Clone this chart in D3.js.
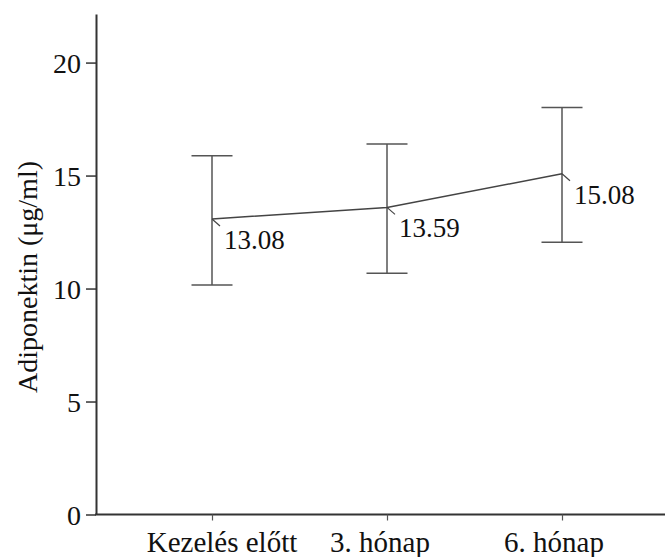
<!DOCTYPE html>
<html lang="hu">
<head>
<meta charset="utf-8">
<script src="https://d3js.org/d3.v7.min.js"></script>
<style>
  body { margin: 0; background: #fff; }
</style>
</head>
<body>
<div id="chart"></div>
<script>
// data
var categories = ["Kezelés előtt", "3. hónap", "6. hónap"];
var means = [13.08, 13.59, 15.08];
var lows = [10.16, 10.68, 12.05];
var highs = [15.88, 16.40, 18.01];
var yTicks = [0, 5, 10, 15, 20];

var W = 665, H = 557;
var serif = "'Liberation Serif', 'Times New Roman', Times, serif";

var svg = d3.select("#chart")
  .append("svg")
  .attr("width", W)
  .attr("height", H)
  .style("font-family", serif);

var axisX = 96, axisY = 514.5;

var x = d3.scalePoint()
  .domain(categories)
  .range([212, 562]);

var y = d3.scaleLinear()
  .domain([0, 22.15])
  .range([axisY, 14]);

// Y axis
var gy = svg.append("g")
  .attr("transform", "translate(" + axisX + ",0)")
  .call(d3.axisLeft(y).tickValues(yTicks).tickSize(10).tickSizeOuter(0).tickPadding(5));
gy.attr("font-family", null);
gy.select(".domain").attr("stroke", "#333").attr("stroke-width", 2);
gy.selectAll(".tick line").attr("stroke", "#333").attr("stroke-width", 1.5);
gy.selectAll(".tick text")
  .style("font-family", serif)
  .style("font-size", "28px")
  .attr("fill", "#111")
  .attr("dy", "0.34em");

// X axis line + ticks
svg.append("line")
  .attr("x1", axisX - 1).attr("x2", W)
  .attr("y1", axisY).attr("y2", axisY)
  .attr("stroke", "#333").attr("stroke-width", 2);

var gx = svg.append("g")
  .attr("transform", "translate(0," + axisY + ")")
  .call(d3.axisBottom(x).tickSize(6).tickSizeOuter(0).tickFormat(""));
gx.select(".domain").remove();
gx.selectAll(".tick line").attr("stroke", "#555").attr("stroke-width", 1.2);

// category labels (a bit off-centre in the original)
var labelShift = [10, -7, -8];
svg.append("g")
  .selectAll("text")
  .data(categories)
  .enter()
  .append("text")
    .attr("x", function(d, i) { return x(d) + labelShift[i]; })
    .attr("y", 552)
    .attr("text-anchor", "middle")
    .attr("fill", "#111")
    .style("font-family", serif)
    .style("font-size", "29px")
    .text(function(d) { return d; });

// Y title
svg.append("text")
  .attr("transform", "translate(37,277) rotate(-90)")
  .attr("text-anchor", "middle")
  .attr("fill", "#111")
  .style("font-family", serif)
  .style("font-size", "28px")
  .text("Adiponektin (μg/ml)");

// error bars
var capHalf = 20.5;
var bars = svg.append("g")
  .selectAll("g")
  .data(categories)
  .enter()
  .append("g")
    .attr("stroke", "#555")
    .attr("stroke-width", 1.5);

bars.append("line")
  .attr("x1", function(d) { return x(d); })
  .attr("x2", function(d) { return x(d); })
  .attr("y1", function(d, i) { return y(lows[i]); })
  .attr("y2", function(d, i) { return y(highs[i]); });
bars.append("line")
  .attr("x1", function(d) { return x(d) - capHalf; })
  .attr("x2", function(d) { return x(d) + capHalf; })
  .attr("y1", function(d, i) { return y(highs[i]); })
  .attr("y2", function(d, i) { return y(highs[i]); });
bars.append("line")
  .attr("x1", function(d) { return x(d) - capHalf; })
  .attr("x2", function(d) { return x(d) + capHalf; })
  .attr("y1", function(d, i) { return y(lows[i]); })
  .attr("y2", function(d, i) { return y(lows[i]); });

// mean line
var line = d3.line()
  .x(function(d, i) { return x(categories[i]); })
  .y(function(d) { return y(d); });

svg.append("path")
  .datum(means)
  .attr("d", line)
  .attr("fill", "none")
  .attr("stroke", "#444")
  .attr("stroke-width", 1.5);

// value labels with little leader lines
var ann = svg.append("g")
  .selectAll("g")
  .data(means)
  .enter()
  .append("g")
    .attr("transform", function(d, i) { return "translate(" + x(categories[i]) + "," + y(d) + ")"; });

ann.append("line")
  .attr("x1", 0).attr("y1", 0)
  .attr("x2", 8).attr("y2", 7)
  .attr("stroke", "#444")
  .attr("stroke-width", 1.2);

ann.append("text")
  .attr("x", 12)
  .attr("y", 30)
  .attr("fill", "#111")
  .style("font-family", serif)
  .style("font-size", "27px")
  .text(function(d) { return d.toFixed(2); });
</script>
</body>
</html>
